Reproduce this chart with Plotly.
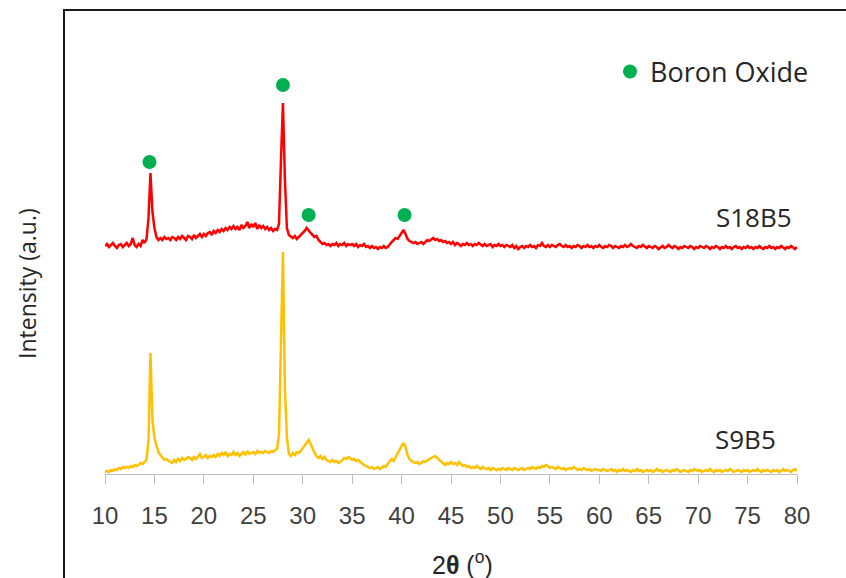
import numpy as np
import plotly.graph_objects as go

# 2-theta sampling (degrees), 0.2 deg step from 10 to 80
two_theta = np.round(np.arange(10.0, 80.0001, 0.2), 1)

# S18B5 intensity (a.u.), rows of 25 points = 5 degrees each
s18b5 = [
    234, 236, 233, 235, 237, 234, 232, 235, 236, 233, 235, 237, 234, 236, 242, 235, 233, 236, 234, 240, 237, 241, 262, 307, 268,
    252, 243, 240, 242, 240, 243, 241, 242, 240, 243, 242, 240, 243, 241, 244, 242, 240, 244, 243, 241, 245, 242, 244, 246, 243,
    246, 244, 247, 248, 245, 249, 247, 250, 248, 251, 249, 252, 250, 253, 251, 254, 251, 253, 250, 255, 252, 254, 258, 252, 256,
    253, 257, 251, 255, 252, 254, 251, 253, 250, 252, 249, 251, 250, 256, 320, 377, 300, 252, 245, 243, 242, 244, 241, 243, 245,
    246, 249, 252, 249, 247, 245, 243, 244, 240, 238, 236, 237, 235, 236, 234, 236, 235, 237, 234, 236, 235, 237, 234, 236, 235,
    236, 234, 236, 233, 235, 234, 236, 233, 234, 232, 234, 232, 233, 231, 233, 232, 234, 232, 233, 236, 238, 240, 242, 241, 244,
    248, 250, 246, 241, 239, 238, 237, 238, 236, 237, 238, 236, 238, 240, 239, 241, 242, 240, 241, 239, 240, 238, 239, 237, 238,
    236, 238, 235, 237, 236, 234, 236, 235, 237, 235, 236, 234, 236, 235, 237, 235, 234, 236, 234, 235, 236, 233, 235, 234, 236,
    234, 235, 233, 235, 234, 233, 235, 232, 234, 231, 233, 234, 232, 234, 233, 235, 233, 234, 232, 235, 234, 237, 234, 233, 235,
    233, 235, 234, 233, 235, 236, 234, 233, 235, 233, 234, 232, 234, 233, 235, 234, 232, 234, 233, 235, 233, 234, 232, 234, 233,
    235, 233, 232, 234, 233, 235, 234, 232, 234, 233, 232, 234, 233, 235, 233, 234, 236, 234, 233, 232, 234, 233, 235, 233, 232,
    234, 233, 232, 234, 233, 231, 233, 234, 232, 233, 235, 233, 232, 234, 233, 231, 233, 232, 234, 233, 232, 234, 233, 231, 233,
    232, 234, 233, 232, 234, 233, 231, 233, 232, 234, 233, 231, 233, 232, 234, 232, 233, 231, 233, 234, 232, 233, 231, 233, 232,
    234, 232, 233, 231, 233, 232, 234, 232, 231, 233, 232, 234, 232, 233, 231, 233, 232, 234, 232, 231, 233, 232, 234, 232, 231,
    233,
]

# S9B5 intensity (a.u.)
s9b5 = [
    8, 9, 8, 10, 9, 11, 10, 12, 11, 13, 12, 13, 12, 14, 13, 15, 14, 15, 17, 16, 18, 20, 40, 127, 60,
    42, 35, 28, 25, 22, 20, 21, 19, 18, 17, 20, 18, 21, 19, 22, 20, 21, 23, 22, 20, 23, 21, 24, 26, 22,
    23, 25, 22, 24, 23, 25, 23, 26, 24, 27, 25, 28, 24, 26, 25, 28, 25, 27, 24, 26, 28, 25, 29, 26, 27,
    28, 26, 29, 27, 28, 27, 29, 28, 27, 29, 28, 30, 31, 45, 150, 228, 90, 43, 26, 24, 27, 25, 28, 27, 29,
    32, 35, 38, 40, 36, 31, 27, 24, 22, 24, 21, 23, 20, 19, 18, 20, 18, 19, 17, 18, 20, 22, 21, 23, 22,
    20, 21, 19, 20, 18, 17, 15, 14, 13, 12, 13, 11, 12, 13, 11, 12, 14, 13, 16, 18, 21, 19, 23, 27, 30,
    34, 37, 33, 25, 21, 19, 18, 17, 18, 16, 17, 19, 18, 20, 21, 22, 23, 24, 22, 20, 18, 16, 15, 17, 16,
    18, 16, 17, 15, 18, 16, 14, 15, 13, 14, 12, 13, 12, 14, 12, 11, 13, 12, 11, 12, 10, 12, 11, 10, 11,
    10, 12, 11, 10, 12, 11, 10, 12, 11, 10, 11, 12, 10, 11, 12, 11, 13, 12, 11, 13, 12, 14, 13, 15, 14,
    12, 13, 12, 11, 13, 12, 11, 12, 10, 11, 12, 11, 13, 12, 10, 11, 10, 12, 11, 10, 11, 9, 10, 11, 10,
    10, 9, 11, 10, 9, 10, 11, 9, 10, 8, 10, 9, 11, 9, 10, 9, 8, 10, 9, 11, 9, 10, 8, 9, 10,
    9, 10, 8, 9, 11, 9, 10, 8, 9, 10, 9, 8, 10, 9, 11, 10, 8, 9, 10, 9, 8, 10, 9, 11, 10,
    9, 10, 8, 9, 10, 9, 11, 9, 8, 10, 9, 10, 8, 9, 10, 9, 11, 10, 8, 9, 10, 9, 8, 10, 9,
    10, 8, 9, 10, 9, 11, 9, 8, 10, 9, 10, 9, 8, 10, 9, 10, 8, 9, 11, 9, 10, 9, 8, 10, 11,
    9,
]

# Boron oxide peak markers
bo_x = [14.5, 28.0, 30.6, 40.3]
bo_y = [318, 395, 265, 265]

# Series labels
label_text = ["S18B5", "S9B5"]
label_x = [75.6, 74.8]
label_y = [263.5, 41]

tick_vals = list(range(10, 81, 5))
tick_text = [str(v) for v in tick_vals]

fig = go.Figure()
fig.add_trace(go.Scatter(x=two_theta, y=s9b5, mode="lines",
                         line=dict(color="#FFC000", width=2.5), showlegend=False))
fig.add_trace(go.Scatter(x=two_theta, y=s18b5, mode="lines",
                         line=dict(color="#FF0000", width=2.5), showlegend=False))
fig.add_trace(go.Scatter(x=bo_x, y=bo_y, mode="markers", name="Boron Oxide",
                         marker=dict(color="#00B050", size=14), showlegend=True))

for t, lx, ly in zip(label_text, label_x, label_y):
    fig.add_annotation(x=lx, y=ly, xref="x", yref="y", text=t, showarrow=False,
                       font=dict(family="Open Sans", size=26, color="#262626"),
                       xanchor="center", yanchor="middle")

# axis titles
fig.add_annotation(x=(462 - 105) / 692, y=(474 - 563) / 464, xref="paper", yref="paper",
                   text="2<b>θ</b> (<sup>o</sup>)", showarrow=False,
                   font=dict(family="Liberation Sans Narrow, Liberation Sans", size=25, color="#262626"),
                   xanchor="center", yanchor="middle")
fig.add_annotation(x=(27 - 105) / 692, y=(474 - 284) / 464, xref="paper", yref="paper",
                   text="Intensity (a.u.)", showarrow=False, textangle=-90,
                   font=dict(family="Open Sans", size=23, color="#262626"),
                   xanchor="center", yanchor="middle")

# chart border
fig.add_shape(type="rect", xref="paper", yref="paper",
              x0=(64 - 105) / 692, x1=1.2, y0=-0.3, y1=1.0,
              line=dict(color="#1a1a1a", width=2), fillcolor="rgba(0,0,0,0)")

fig.update_xaxes(range=[10, 80], tickvals=tick_vals, ticktext=tick_text,
                 showgrid=False, zeroline=False, showline=True, linecolor="#BFBFBF", linewidth=1,
                 ticks="outside", ticklen=9, tickcolor="#BFBFBF", tickwidth=1,
                 tickfont=dict(family="Liberation Sans Narrow, Liberation Sans", size=24, color="#404040"),
                 ticklabelstandoff=11)
fig.update_yaxes(range=[6, 470], visible=False)

fig.update_layout(
    width=846, height=578,
    margin=dict(l=105, r=49, t=10, b=104),
    plot_bgcolor="white", paper_bgcolor="white",
    legend=dict(x=(610 - 105) / 692, y=(474 - 72) / 464, xanchor="left", yanchor="middle",
                font=dict(family="Open Sans", size=27, color="#262626"),
                bgcolor="rgba(0,0,0,0)"),
)

fig.write_html("out.html")
